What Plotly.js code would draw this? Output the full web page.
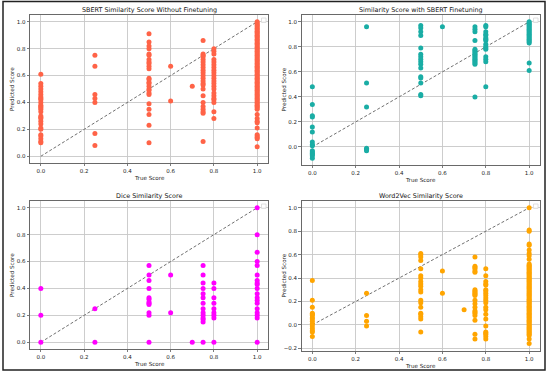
<!DOCTYPE html>
<html><head><meta charset="utf-8">
<script src="https://cdn.plot.ly/plotly-3.0.1.min.js"></script>
<style>html,body{margin:0;padding:0;background:#fff;}#chart{width:550px;height:373px;}</style>
</head><body><div id="chart"></div>
<script>
// ---- Data ----
const titles = ["SBERT Similarity Score Without Finetuning", "Similarity Score with SBERT Finetuning", "Dice Similarity Score", "Word2Vec Similarity Score"];
const xTickVals = [0, 0.2, 0.4, 0.6, 0.8, 1.0];

// SBERT without finetuning: true score -> predicted scores
const sbert_x0 = [0.61,0.54,0.52,0.50,0.48,0.46,0.44,0.43,0.42,0.40,0.38,0.37,0.36,0.35,0.33,0.30,0.29,0.28,0.26,0.24,0.21,0.20,0.16,0.15,0.13,0.11,0.10];
const sbert_x025 = [0.75,0.67,0.46,0.43,0.40,0.17,0.08];
const sbert_x05 = [0.91,0.85,0.82,0.80,0.76,0.75,0.72,0.70,0.69,0.67,0.65,0.58,0.57,0.55,0.54,0.52,0.50,0.49,0.47,0.46,0.39,0.35,0.31,0.23,0.10];
const sbert_x06 = [0.67,0.41];
const sbert_x07 = [0.52];
const sbert_x075 = [0.86,0.76,0.75,0.74,0.72,0.70,0.68,0.66,0.64,0.62,0.60,0.58,0.56,0.54,0.53,0.50,0.45,0.40,0.37,0.35,0.33,0.32,0.11];
const sbert_x08 = [0.80,0.78,0.76,0.72,0.70,0.68,0.66,0.64,0.62,0.60,0.58,0.56,0.54,0.52,0.50,0.47,0.45,0.43,0.42,0.40,0.33,0.28];
const sbert_x1 = [1.00,0.99,0.98,0.97,0.96,0.95,0.94,0.93,0.92,0.91,0.90,0.89,0.88,0.87,0.86,0.85,0.84,0.83,0.82,0.81,0.80,0.79,0.78,0.77,0.76,0.75,0.74,0.73,0.72,0.71,0.70,0.69,0.68,0.67,0.66,0.65,0.64,0.63,0.62,0.61,0.60,0.59,0.58,0.57,0.56,0.55,0.54,0.53,0.52,0.51,0.50,0.49,0.48,0.47,0.46,0.45,0.44,0.43,0.42,0.41,0.40,0.39,0.38,0.37,0.36,0.35,0.31,0.28,0.26,0.25,0.21,0.16,0.15,0.14,0.13,0.07];

// SBERT with finetuning
const ft_x0 = [0.48,0.34,0.25,0.24,0.16,0.12,0.04,0.02,0.01,-0.03,-0.04,-0.05,-0.06,-0.07,-0.09];
const ft_x025 = [0.96,0.51,0.32,-0.01,-0.02,-0.03];
const ft_x05 = [0.97,0.95,0.92,0.89,0.79,0.74,0.72,0.70,0.68,0.66,0.63,0.56,0.55,0.51,0.42,0.41];
const ft_x06 = [0.96];
const ft_x075 = [0.96,0.94,0.92,0.85,0.78,0.77,0.76,0.75,0.74,0.73,0.72,0.71,0.70,0.69,0.68,0.67,0.66,0.40];
const ft_x08 = [0.97,0.96,0.92,0.90,0.89,0.87,0.86,0.85,0.82,0.80,0.79,0.78,0.72,0.70,0.68,0.48];
const ft_x1 = [1.00,0.99,0.98,0.97,0.96,0.95,0.94,0.93,0.92,0.91,0.90,0.89,0.88,0.87,0.86,0.85,0.84,0.83,0.67,0.61];

// Dice
const dice_x0 = [0.40,0.20,0.00];
const dice_x025 = [0.25,0.00];
const dice_x05 = [0.57,0.50,0.46,0.40,0.33,0.32,0.30,0.29,0.28,0.22,0.20,0.00];
const dice_x06 = [0.50,0.22];
const dice_x07 = [0.00];
const dice_x075 = [0.57,0.50,0.44,0.40,0.36,0.33,0.29,0.25,0.22,0.20,0.18,0.17,0.15,0.00];
const dice_x08 = [0.44,0.40,0.33,0.29,0.25,0.22,0.20,0.18,0.00];
const dice_x1 = [1.00,0.80,0.67,0.60,0.57,0.50,0.46,0.44,0.43,0.40,0.36,0.33,0.31,0.29,0.25,0.22,0.20,0.18,0.00];

// Word2Vec
const w2v_x0 = [0.38,0.21,0.15,0.10,0.09,0.08,0.06,0.05,0.03,0.01,-0.01,-0.03,-0.05,-0.06,-0.10];
const w2v_x025 = [0.27,0.08,0.03,-0.01];
const w2v_x05 = [0.61,0.60,0.58,0.55,0.48,0.42,0.40,0.37,0.35,0.33,0.30,0.28,0.21,0.19,0.15,0.10,0.09,0.07,0.05,-0.06];
const w2v_x06 = [0.46,0.27];
const w2v_x07 = [0.13];
const w2v_x075 = [0.58,0.50,0.49,0.48,0.46,0.45,0.30,0.29,0.28,0.27,0.26,0.25,0.21,0.18,0.15,0.12,0.11,0.10,0.08,0.04,-0.08,-0.12];
const w2v_x08 = [0.48,0.42,0.37,0.35,0.34,0.30,0.29,0.27,0.25,0.23,0.21,0.19,0.15,0.13,0.09,0.05,-0.01,-0.06,-0.07,-0.08,-0.10,-0.12];
const w2v_x1 = [1.00,0.81,0.80,0.69,0.68,0.64,0.61,0.59,0.56,0.52,0.51,0.50,0.49,0.48,0.47,0.46,0.45,0.44,0.43,0.42,0.41,0.40,0.39,0.38,0.37,0.36,0.35,0.34,0.33,0.32,0.31,0.30,0.29,0.28,0.27,0.26,0.25,0.24,0.23,0.22,0.21,0.20,0.19,0.18,0.17,0.16,0.15,0.14,0.13,0.12,0.11,0.10,0.09,0.08,0.07,0.06,0.05,0.04,0.03,0.02,0.01,0.00,-0.01,-0.02,-0.03,-0.04,-0.05,-0.06,-0.07,-0.08,-0.09,-0.12,-0.16];

const trueScores = [0, 0.25, 0.5, 0.6, 0.7, 0.75, 0.8, 1.0];
const sbertCols = [sbert_x0, sbert_x025, sbert_x05, sbert_x06, sbert_x07, sbert_x075, sbert_x08, sbert_x1];
const ftCols = [ft_x0, ft_x025, ft_x05, ft_x06, [], ft_x075, ft_x08, ft_x1];
const diceCols = [dice_x0, dice_x025, dice_x05, dice_x06, dice_x07, dice_x075, dice_x08, dice_x1];
const w2vCols = [w2v_x0, w2v_x025, w2v_x05, w2v_x06, w2v_x07, w2v_x075, w2v_x08, w2v_x1];
const colors = ["#FF6347", "#1AADA5", "#FF00FF", "#FFA500"];
const yRanges = [[-0.05, 1.05], [-0.1445, 1.0545], [-0.05, 1.05], [-0.223, 1.058]];
const yTickVals = [[0,0.2,0.4,0.6,0.8,1.0],[0,0.2,0.4,0.6,0.8,1.0],[0,0.2,0.4,0.6,0.8,1.0],[-0.2,0,0.2,0.4,0.6,0.8,1.0]];

function flatten(cols) {
  const xs = [], ys = [];
  cols.forEach((c, i) => c.forEach(v => { xs.push(trueScores[i]); ys.push(v); }));
  return {xs, ys};
}

const W = 550, H = 373;
// panel pixel boxes: [left, right, top, bottom]
const boxes = [[30, 268, 15, 163], [301.5, 540, 15, 165], [30, 268, 201, 349], [301.5, 540, 201, 351]];
const allCols = [sbertCols, ftCols, diceCols, w2vCols];

const data = [], layout = {
  width: W, height: H, margin: {l:0, r:0, t:0, b:0}, showlegend: false,
  paper_bgcolor: '#fff', plot_bgcolor: '#fff',
  font: {family: 'DejaVu Sans', color: '#222'},
  annotations: [], shapes: []
};

boxes.forEach((b, i) => {
  const sfx = i === 0 ? '' : String(i + 1);
  const xa = 'x' + sfx, ya = 'y' + sfx;
  data.push({x: [0, 1], y: [0, 1], xaxis: xa, yaxis: ya, mode: 'lines', type: 'scatter',
    line: {color: '#707070', width: 1, dash: '3px,2px'}, hoverinfo: 'skip'});
  const f = flatten(allCols[i]);
  data.push({x: f.xs, y: f.ys, xaxis: xa, yaxis: ya, mode: 'markers', type: 'scatter',
    marker: {color: colors[i], size: 5, line: {width: 0}}});
  const axCommon = {showgrid: true, gridcolor: '#c8c8c8', gridwidth: 0.9, showline: true, mirror: true,
    linecolor: '#444', linewidth: 0.8, ticks: 'outside', ticklen: 2.5, tickwidth: 0.7, tickcolor: '#444',
    zeroline: false, tickfont: {size: 5.5, family: 'DejaVu Sans', color: '#222'}, tickformat: '.1f'};
  layout['xaxis' + sfx] = Object.assign({}, axCommon, {
    domain: [b[0] / W, b[1] / W], range: [-0.05, 1.05], tickvals: xTickVals, anchor: ya});
  layout['yaxis' + sfx] = Object.assign({}, axCommon, {
    domain: [1 - b[3] / H, 1 - b[2] / H], range: yRanges[i], tickvals: yTickVals[i], anchor: xa});
  const cx = (b[0] + b[1]) / 2;
  layout.annotations.push({text: titles[i], xref: 'paper', yref: 'paper', x: cx / W, y: 1 - (b[2] - 5) / H,
    xanchor: 'center', yanchor: 'middle', showarrow: false, font: {size: 6.4, family: 'DejaVu Sans', color: '#111'}});
  layout.annotations.push({text: 'True Score', xref: 'paper', yref: 'paper', x: cx / W, y: 1 - (b[3] + 14.5) / H,
    xanchor: 'center', yanchor: 'middle', showarrow: false, font: {size: 5.6, family: 'DejaVu Sans', color: '#222'}});
  layout.annotations.push({text: 'Predicted Score', xref: 'paper', yref: 'paper', x: (b[0] - 18) / W, y: 1 - ((b[2] + b[3]) / 2) / H,
    xanchor: 'center', yanchor: 'middle', textangle: -90, showarrow: false, font: {size: 5.6, family: 'DejaVu Sans', color: '#222'}});
  // empty legend box
  layout.shapes.push({type: 'rect', xref: 'paper', yref: 'paper', x0: (b[1] - 6.5) / W, x1: (b[1] - 2) / W,
    y0: 1 - (b[2] + 7.5) / H, y1: 1 - (b[2] + 3) / H, line: {color: '#d8d8d8', width: 0.8}, fillcolor: 'rgba(255,255,255,0.8)'});
});
// outer frame
layout.shapes.push({type: 'rect', xref: 'paper', yref: 'paper', x0: 3 / W, x1: 545 / W, y0: 1 - 370 / H, y1: 1 - 1.5 / H,
  line: {color: '#222', width: 1.5}, fillcolor: 'rgba(0,0,0,0)', layer: 'above'});

Plotly.newPlot('chart', data, layout, {staticPlot: true, displayModeBar: false});
</script></body></html>
